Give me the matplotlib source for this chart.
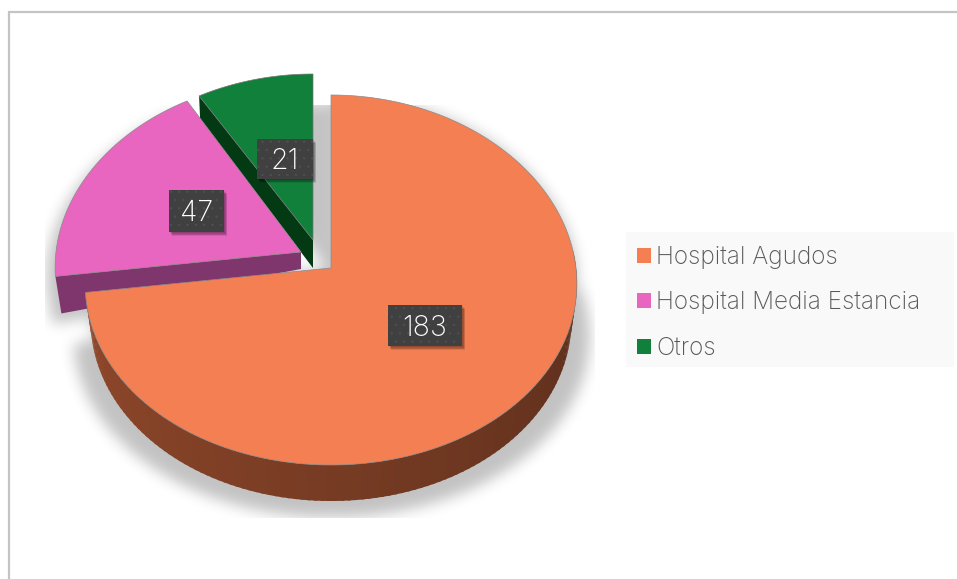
import numpy as np
import matplotlib
matplotlib.use('Agg')
import matplotlib.pyplot as plt
from matplotlib.patches import Polygon, Rectangle
from matplotlib.path import Path

categories = ['Hospital Agudos', 'Hospital Media Estancia', 'Otros']
values = [183, 47, 21]
colors = ['#F47F52', '#E966C0', '#11803A']
side_colors = ['#8A4529', '#7E366C', '#033A14']

W, H = 957, 579
RX, RY, BULGE, TAPER = 245, 185, -12, 0.085
apexes = [(331, 268), (301, 252), (313, 247)]
green_tip = (313, 240)
label_boxes = [(388, 305, 74, 41), (169, 190, 55, 42), (257, 139, 56, 40)]


def warp(theta, apex, scale=1.0, drop=0):
    # squashed circle with a bit of perspective, top is further away
    u, v = np.cos(np.radians(theta)), np.sin(np.radians(theta))
    x = apex[0] + scale*RX*u*(1 - TAPER*v)
    y = apex[1] - (RY*v + BULGE*v*v) + drop
    return np.column_stack([x, y])


def face_points(wedge, apex, tip=None):
    t = np.linspace(wedge.theta1, wedge.theta2, 200)
    return np.vstack([[tip if tip else apex], warp(t, apex)])


def blur(img, sigma):
    k = np.exp(-0.5*(np.arange(-3*sigma, 3*sigma + 1)/sigma)**2)
    k /= k.sum()
    img = np.apply_along_axis(lambda r: np.convolve(r, k, mode='same'), 0, img)
    return np.apply_along_axis(lambda r: np.convolve(r, k, mode='same'), 1, img)


def add_shadow(ax, outlines):
    xx, yy = np.meshgrid(np.arange(W), np.arange(H))
    pts = np.column_stack([xx.ravel(), yy.ravel()])
    mask = np.zeros(H*W)
    for poly in outlines:
        mask = np.maximum(mask, Path(poly).contains_points(pts).astype(float))
    mask = blur(mask.reshape(H, W), 7)
    mask[:, :45] = 0
    mask[:, 595:] = 0
    mask[:105, :] = 0
    mask[518:, :] = 0
    rgba = np.zeros((H, W, 4))
    rgba[..., 3] = mask*0.24
    ax.imshow(rgba, extent=(0, W, H, 0), aspect='auto', zorder=1, interpolation='bilinear')


def mix(c, k):
    return tuple(np.array(matplotlib.colors.to_rgb(c))*k)


fig = plt.figure(figsize=(W/100, H/100), dpi=100)
ax = fig.add_axes([0, 0, 1, 1])

# pie gives the angles, the tilted shapes are then built from them
wedges, _ = ax.pie(values, startangle=90, counterclock=False)
for w in wedges:
    w.set_visible(False)
ax.set_aspect('auto')
ax.set_xlim(0, W)
ax.set_ylim(H, 0)
ax.axis('off')

big, mid, small = wedges

# orange rim, darker towards the right
t_rim = np.linspace(big.theta1, 5, 120)
for a, b in zip(t_rim[:-1], t_rim[1:]):
    tt = np.linspace(a - 0.3, b + 0.3, 4)
    k = 1.05 - 0.4*(b - big.theta1)/(5 - big.theta1)
    ax.add_patch(Polygon(np.vstack([warp(tt, apexes[0]), warp(tt[::-1], apexes[0], 0.978, 36)]),
                         fc=mix(side_colors[0], k), ec='none', zorder=5))

# pink front side
p0 = warp(np.array([mid.theta2]), apexes[1])[0]
pink_side = [p0, apexes[1], (apexes[1][0], apexes[1][1] + 17), (p0[0] + 6, p0[1] + 37)]
# green inner side
g0 = warp(np.array([small.theta2]), apexes[2])[0]
green_side = [g0, green_tip, (green_tip[0], green_tip[1] + 28), (g0[0] + 1, g0[1] + 23)]

t_low = np.linspace(big.theta1, 10, 100)
shadow_polys = [
    np.vstack([[apexes[0]], warp(np.linspace(big.theta1, big.theta2, 200), apexes[0])]),
    np.vstack([warp(t_low, apexes[0], 1.05, 52), [apexes[0]]]),
    np.array(pink_side) + [-9, 10],
    face_points(mid, apexes[1]) + [-9, 10],
    face_points(small, apexes[2]) + [18, 28],
    np.array(green_side) + [30, 20],
]
add_shadow(ax, shadow_polys)

ax.add_patch(Polygon(green_side, fc=side_colors[2], ec='none', zorder=2))
ax.add_patch(Polygon(face_points(small, apexes[2], green_tip), fc=colors[2], ec='#777777', lw=0.5, zorder=3))
ax.add_patch(Polygon(pink_side, fc=side_colors[1], ec='none', zorder=3.5))
ax.add_patch(Polygon(face_points(mid, apexes[1]), fc=colors[1], ec='#888888', lw=0.5, zorder=4))
ax.add_patch(Polygon(face_points(big, apexes[0]), fc=colors[0], ec='#8a8a8a', lw=0.5, zorder=6))

# data labels
plt.rcParams['hatch.linewidth'] = 0.4
for val, (x, y, w, h) in zip(values, label_boxes):
    for i in range(5):
        ax.add_patch(Rectangle((x + 1 + i*0.6, y + 1 + i*0.8), w, h, fc='black', ec='none', alpha=0.09, zorder=7))
    ax.add_patch(Rectangle((x, y), w, h, fc='#404040', ec='#505050', lw=0, hatch='..', zorder=8))
    ax.text(x + w/2, y + h/2 + 2.5, str(val), color='white', fontsize=20.5, fontfamily='Inter', fontweight='light',
            ha='center', va='center', zorder=9)

# legend
ax.add_patch(Rectangle((626, 232), 328, 135, fc='#F9F9F9', ec='none', zorder=2))
handles = [Rectangle((0, 0), 1, 1, fc=c, ec='none') for c in colors]
leg = ax.legend(handles, categories, loc='upper left', bbox_to_anchor=(632/W, 1 - 241/H), frameon=False,
                prop={'family': 'Inter', 'weight': 'light', 'size': 17.5}, labelcolor='#595959',
                handlelength=0.58, handleheight=0.58, handletextpad=0.22, labelspacing=0.93,
                borderpad=0.2, borderaxespad=0)
leg.set_zorder(10)

# chart border
ax.plot([9, 9, W], [H, 12, 12], color='#C4C4C4', lw=1.6, zorder=1, solid_joinstyle='miter')

fig.savefig('out.png', dpi=100)
